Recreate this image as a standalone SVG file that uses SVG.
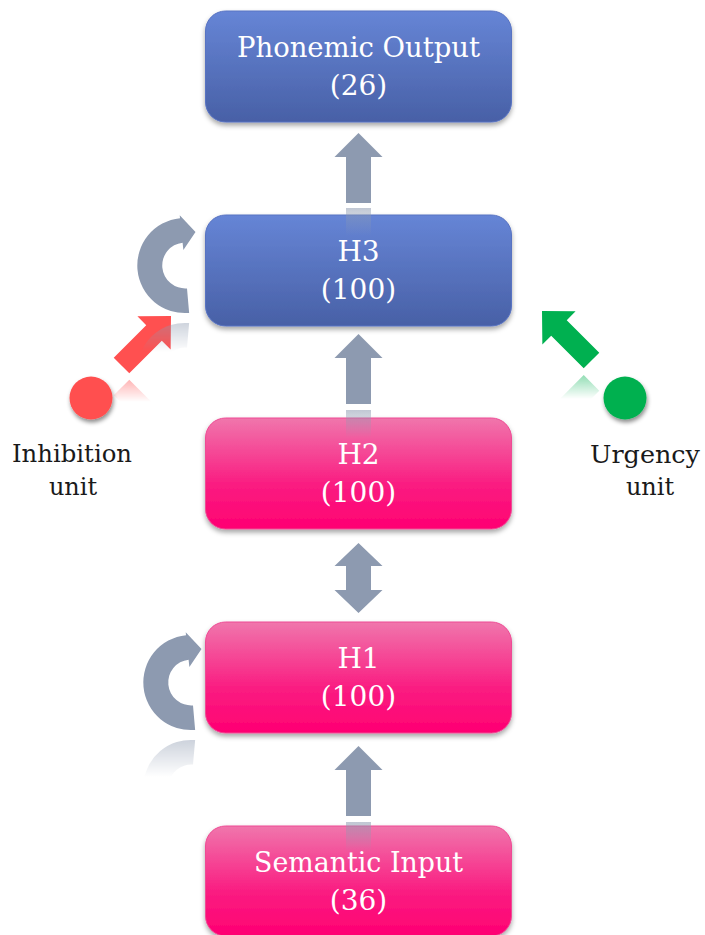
<svg xmlns="http://www.w3.org/2000/svg" xmlns:xlink="http://www.w3.org/1999/xlink" width="705" height="935" viewBox="0 0 705 935">
  <defs>
    <style>
      .blue { fill: url(#gBlue); stroke: #5873C2; stroke-width: 1; filter: url(#shadow); }
      .pink { fill: url(#gPink); stroke: #EE4B94; stroke-width: 1; filter: url(#shadow); }
      .lbl { font-family: "DejaVu Serif", "Liberation Serif", serif; font-size: 28px; fill: #ffffff; text-anchor: middle; }
      .side { font-family: "DejaVu Serif", "Liberation Serif", serif; font-size: 24px; fill: #1a1a1a; text-anchor: middle; }
      .gray { fill: #8D9AB0; }
    </style>
    <linearGradient id="gBlue" x1="0" y1="0" x2="0" y2="1">
      <stop offset="0" stop-color="#6685D6"/>
      <stop offset="1" stop-color="#4860A6"/>
    </linearGradient>
    <linearGradient id="gPink" x1="0" y1="0" x2="0" y2="1">
      <stop offset="0" stop-color="#F076AC"/>
      <stop offset="0.6" stop-color="#FA1C81"/>
      <stop offset="1" stop-color="#FF0072"/>
    </linearGradient>
    <linearGradient id="reflGray" x1="0" y1="0" x2="0" y2="1">
      <stop offset="0" stop-color="#8D9AB0" stop-opacity="0.55"/>
      <stop offset="1" stop-color="#8D9AB0" stop-opacity="0"/>
    </linearGradient>
    <linearGradient id="fade" x1="0" y1="0" x2="0" y2="1">
      <stop offset="0" stop-color="#ffffff" stop-opacity="0.5"/>
      <stop offset="1" stop-color="#ffffff" stop-opacity="0"/>
    </linearGradient>
    <filter id="shadow" x="-10%" y="-10%" width="120%" height="140%">
      <feDropShadow dx="0" dy="3" stdDeviation="2.5" flood-color="#000" flood-opacity="0.35"/>
    </filter>
    <filter id="dotShadow" x="-30%" y="-30%" width="170%" height="170%">
      <feDropShadow dx="1" dy="3" stdDeviation="2" flood-color="#000" flood-opacity="0.45"/>
    </filter>

    <!-- shapes reused by the connectors -->
    <path id="curl" d="M189.15,312.92 A47.6,47.6 0 0 1 180.03,218.16 L179.72,215.28 L195.5,232 L183.38,250.08 L182.6,242.63 A23,23 0 0 0 187,288.41 Z"/>
    <polygon id="diag" points="0,0 23.5,24 11,24 11,70 -11,70 -11,24 -23.5,24"/>
    <polygon id="upArrow" points="358.5,0 382.5,24 371,24 371,70 346,70 346,24 334.5,24"/>

    <!-- fading masks for mirrored reflections -->
    <mask id="mCurl3" maskUnits="userSpaceOnUse" x="0" y="0" width="705" height="935">
      <rect x="130" y="318" width="80" height="34" fill="url(#fade)"/>
    </mask>
    <mask id="mCurl1" maskUnits="userSpaceOnUse" x="0" y="0" width="705" height="935">
      <rect x="136" y="735" width="80" height="42" fill="url(#fade)"/>
    </mask>
    <mask id="mRed" maskUnits="userSpaceOnUse" x="0" y="0" width="705" height="935">
      <rect x="95" y="376" width="80" height="26" fill="url(#fade)"/>
    </mask>
    <mask id="mGreen" maskUnits="userSpaceOnUse" x="0" y="0" width="705" height="935">
      <rect x="545" y="371" width="75" height="28" fill="url(#fade)"/>
    </mask>
  </defs>

  <rect width="705" height="935" fill="#ffffff"/>

  <!-- layer nodes -->
  <g id="phonemic-output">
    <rect class="blue" x="205.5" y="11" width="306" height="111" rx="20"/>
    <text class="lbl" x="358.5" y="57" textLength="243" lengthAdjust="spacingAndGlyphs">Phonemic Output</text>
    <text class="lbl" x="358.5" y="95">(26)</text>
  </g>
  <g id="h3">
    <rect class="blue" x="205.5" y="215" width="306" height="111" rx="20"/>
    <text class="lbl" x="358.5" y="261">H3</text>
    <text class="lbl" x="358.5" y="299">(100)</text>
  </g>
  <g id="h2">
    <rect class="pink" x="205.5" y="418" width="306" height="111" rx="20"/>
    <text class="lbl" x="358.5" y="464">H2</text>
    <text class="lbl" x="358.5" y="502">(100)</text>
  </g>
  <g id="h1">
    <rect class="pink" x="205.5" y="622" width="306" height="111" rx="20"/>
    <text class="lbl" x="358.5" y="668">H1</text>
    <text class="lbl" x="358.5" y="706">(100)</text>
  </g>
  <g id="semantic-input">
    <rect class="pink" x="205.5" y="826" width="306" height="110" rx="20"/>
    <text class="lbl" x="358.5" y="872" textLength="209" lengthAdjust="spacingAndGlyphs">Semantic Input</text>
    <text class="lbl" x="358.5" y="910">(36)</text>
  </g>

  <!-- control units -->
  <g id="inhibition-unit">
    <circle cx="91" cy="398" r="21.5" fill="#FF5050" filter="url(#dotShadow)"/>
    <text class="side" x="72" y="462" textLength="120" lengthAdjust="spacingAndGlyphs">Inhibition</text>
    <text class="side" x="73" y="495">unit</text>
  </g>
  <g id="urgency-unit">
    <circle cx="625" cy="398" r="21.5" fill="#00B050" filter="url(#dotShadow)"/>
    <text class="side" x="645" y="463" textLength="110" lengthAdjust="spacingAndGlyphs">Urgency</text>
    <text class="side" x="650" y="495">unit</text>
  </g>

  <!-- connectors -->
  <g id="connectors">
    <!-- feed-forward arrows -->
    <use href="#upArrow" class="gray" transform="translate(0,133)"/>
    <use href="#upArrow" class="gray" transform="translate(0,334)"/>
    <use href="#upArrow" class="gray" transform="translate(0,746)"/>
    <!-- bidirectional H1 / H2 -->
    <polygon class="gray" points="358.5,543 382.5,566 371,566 371,590 382.5,590 358.5,613 334.5,590 346,590 346,566 334.5,566"/>
    <!-- recurrent loops -->
    <use href="#curl" class="gray"/>
    <use href="#curl" class="gray" transform="translate(6,417)"/>
    <!-- unit inputs to H3 -->
    <use href="#diag" fill="#FF5050" transform="translate(171,316) rotate(45)"/>
    <use href="#diag" fill="#00B050" transform="translate(542,311) rotate(-45)"/>

    <!-- reflections -->
    <rect x="346" y="208" width="25" height="28" fill="url(#reflGray)"/>
    <rect x="346" y="410" width="25" height="28" fill="url(#reflGray)"/>
    <rect x="346" y="822" width="25" height="30" fill="url(#reflGray)"/>
    <g mask="url(#mRed)">
      <use href="#diag" fill="#FF5050" transform="matrix(1 0 0 -1 0 753) translate(171,316) rotate(45)"/>
    </g>
    <g mask="url(#mGreen)">
      <use href="#diag" fill="#00B050" transform="matrix(1 0 0 -1 0 743.4) translate(542,311) rotate(-45)"/>
    </g>
    <g mask="url(#mCurl3)">
      <use href="#curl" class="gray" transform="matrix(1 0 0 -1 0 636)"/>
    </g>
    <g mask="url(#mCurl1)">
      <use href="#curl" class="gray" transform="matrix(1 0 0 -1 6 1053)"/>
    </g>
  </g>
</svg>
